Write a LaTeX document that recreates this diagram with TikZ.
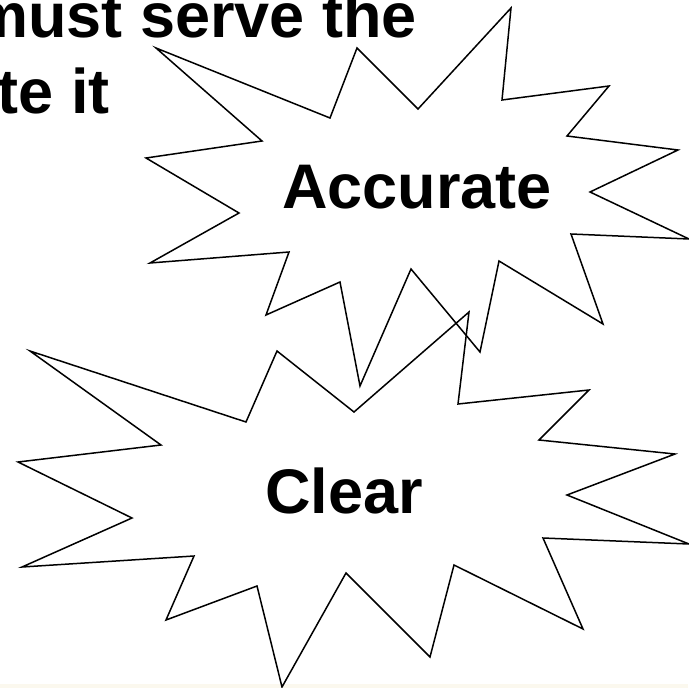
\documentclass[tikz,border=0pt]{standalone}
\usepackage{fontspec}
\setmainfont{Liberation Sans}
\usepackage{tikz}
\definecolor{cream}{HTML}{FBF8EE}

\begin{document}
\begin{tikzpicture}[
    x=1pt,y=-1pt,
    burst/.style={
        draw=black,
        line width=1.5pt,
        line join=miter
    },
    word/.style={
        font=\fontsize{63}{63}\selectfont\bfseries,
        inner sep=0pt
    }
]
\useasboundingbox (0,0) rectangle (688,688);
\fill[cream] (0,684) rectangle (688,688);

% upper burst
\draw[burst] (511,8) -- (502,100) -- (609,86) -- (567,136) -- (678,150)
    -- (590,192) -- (689,239) -- (571,234) -- (603,324) -- (499,261)
    -- (480,352) -- (411,269) -- (360,386) -- (340,282) -- (266,315)
    -- (289,252) -- (150,263) -- (239,213) -- (146,158) -- (262,141)
    -- (156,48) -- (330,118) -- (357,48) -- (418,109) -- cycle;

% lower burst
\draw[burst] (30,351) -- (246,422) -- (277,351) -- (354,412) -- (469,312)
    -- (458,404) -- (589,390) -- (539,440) -- (675,454) -- (567,495)
    -- (689,544) -- (543,538) -- (583,629) -- (454,565) -- (430,657)
    -- (346,573) -- (282,687) -- (257,586) -- (166,620) -- (194,556)
    -- (22,567) -- (132,518) -- (18,462) -- (161,445) -- cycle;

\node[word,anchor=base east] (lineone) at (417,37) {must serve the};
\node[word,anchor=base east] (linetwo) at (110,113) {te it};

\node[word,anchor=base] (accurate) at (417,208) {Accurate};
\node[word,anchor=base] (clear) at (344,513) {Clear};
\end{tikzpicture}
\end{document}
